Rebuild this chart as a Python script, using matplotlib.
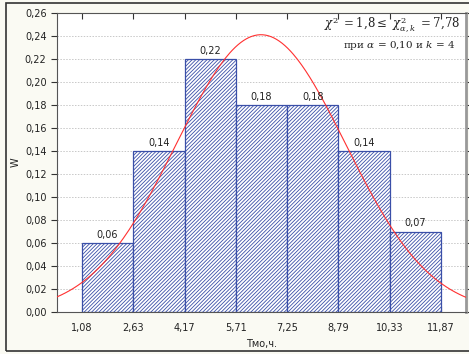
import numpy as np
import matplotlib.pyplot as plt
from matplotlib.patches import Rectangle

plt.rcParams['mathtext.fontset'] = 'dejavuserif'

edges = [1.08, 2.63, 4.17, 5.71, 7.25, 8.79, 10.33, 11.87]
freq = [0.06, 0.14, 0.22, 0.18, 0.18, 0.14, 0.07]
tick_lbl = ["1,08", "2,63", "4,17", "5,71", "7,25", "8,79", "10,33", "11,87"]
bar_lbl = ["0,06", "0,14", "0,22", "0,18", "0,18", "0,14", "0,07"]

# normal curve fitted to the grouped data
e = np.array(edges)
w = np.array(freq)
mids = (e[:-1] + e[1:]) / 2
h = e[1] - e[0]
mu = (mids * w).sum() / w.sum()
sd = np.sqrt(((mids - mu) ** 2 * w).sum() / w.sum())

fig = plt.figure(figsize=(4.69, 3.54), dpi=100, facecolor='#fafaf3')
fig.patches.append(Rectangle((0.012, 0.008), 1.2, 0.983, transform=fig.transFigure,
                             fill=False, edgecolor='#333333', lw=1.2))
ax = fig.add_axes([0.1215, 0.1186, 0.8721, 0.8447])
ax.set_facecolor('white')

plt.rcParams['hatch.color'] = '#8898d2'
plt.rcParams['hatch.linewidth'] = 0.6
ax.bar(e[:-1], w, width=np.diff(e), align='edge', facecolor='white',
       edgecolor='#3a4fa8', linewidth=0.9, hatch='/////////', zorder=2)
for xm, v, s in zip(mids, w, bar_lbl):
    ax.text(xm, v + 0.003, s, ha='center', va='bottom', fontsize=7, color='#222222', zorder=4)

xs = np.linspace(0.3, 12.7, 300)
ys = w.sum() * h / (sd * np.sqrt(2 * np.pi)) * np.exp(-0.5 * ((xs - mu) / sd) ** 2)
ax.plot(xs, ys, color='#ff3030', lw=0.8, zorder=3)

ax.set_xlim(0.34, 12.62)
ax.set_ylim(0, 0.26)
ax.set_xticks(edges)
ax.set_xticklabels(tick_lbl)
yt = np.arange(0, 0.261, 0.02)
ax.set_yticks(yt)
ax.set_yticklabels([("%.2f" % t).replace('.', ',') for t in yt])
ax.tick_params(axis='both', labelsize=7, colors='#333333', labelcolor='#222222')
ax.tick_params(axis='x', direction='in', top=True, length=4, pad=8)
ax.tick_params(axis='y', direction='out', right=True, length=4)
ax.yaxis.grid(True, linestyle=(0, (1.5, 1.5)), color='#c8c8c8', lw=0.7, zorder=0)
ax.set_axisbelow(True)
for sp in ax.spines.values():
    sp.set_color('#555555')
ax.spines['right'].set_color('#999999')
ax.spines['right'].set_linewidth(2)

ax.set_xlabel("Тмо,ч.", fontsize=7, color='#222222', labelpad=4)
ax.set_ylabel("W", fontsize=7, color='#222222', labelpad=3)

ax.text(0.985, 0.962, r'$\chi^2\ =1{,}8 \leq\ \chi^2_{\alpha,k}\ = 7{,}78$', transform=ax.transAxes,
        ha='right', va='center', fontsize=8.5, color='#222222')
ax.text(0.975, 0.89, r'при $\alpha$ = 0,10 и $k$ = 4', transform=ax.transAxes,
        ha='right', va='center', fontsize=7.5, family='DejaVu Serif', color='#222222')

fig.savefig('out.png', dpi=100, facecolor=fig.get_facecolor())
